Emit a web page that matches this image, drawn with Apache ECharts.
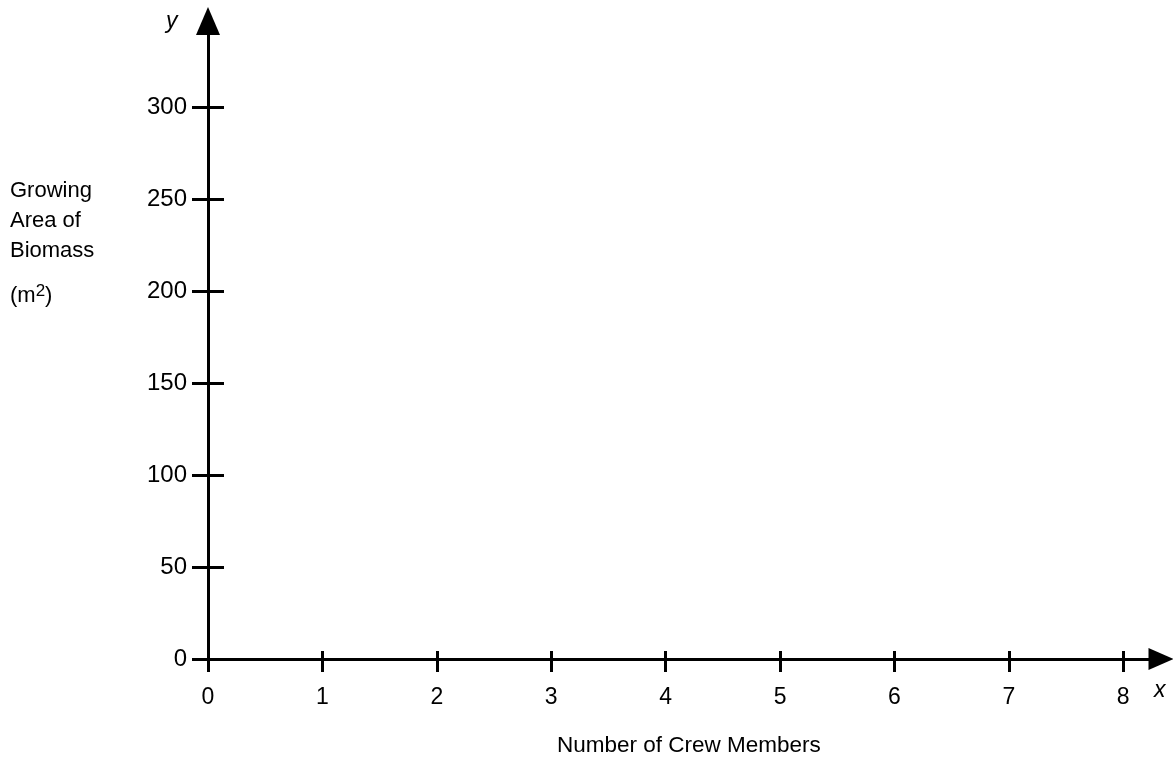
<!DOCTYPE html>
<html><head><meta charset="utf-8">
<script src="https://cdn.jsdelivr.net/npm/echarts@6/dist/echarts.min.js"></script>
<style>html,body{margin:0;padding:0;background:#fff}#c{width:1173px;height:762px}</style>
</head><body><div id="c"></div>
<script>
// ---- data ----
const xTicks = [0, 1, 2, 3, 4, 5, 6, 7, 8];
const yTicks = [0, 50, 100, 150, 200, 250, 300];
const seriesValues = [];           // the reference graph is empty (blank axes)
const xAxisTitle = 'Number of Crew Members';
const yAxisTitleLines = ['Growing', 'Area of', 'Biomass'];
const yAxisUnit = '(m{sup|2})';
const xVar = 'x', yVar = 'y';
const X_MAX = 8.33, Y_MAX = 346.7;

const FONT = '"Liberation Sans", Arial, Helvetica, sans-serif';
const BLACK = '#000';
const gridBox = { left: 208, right: 12, top: 21, bottom: 103, containLabel: false };

function xAx(gridIndex, outside) {
  return {
    type: 'value', gridIndex, min: 0, max: X_MAX, position: 'bottom',
    splitLine: { show: false },
    axisLine: outside ? {
      show: true, onZero: false,
      lineStyle: { color: BLACK, width: 3 },
      symbol: ['none', 'triangle'], symbolSize: [22, 25]
    } : { show: false },
    axisTick: {
      show: true, inside: !outside, length: outside ? 13 : 8,
      customValues: xTicks, lineStyle: { color: BLACK, width: 3 }
    },
    axisLabel: outside ? {
      show: true, customValues: xTicks, margin: 27,
      fontSize: 23, color: BLACK, fontFamily: FONT
    } : { show: false }
  };
}
function yAx(gridIndex, outside) {
  return {
    type: 'value', gridIndex, min: 0, max: Y_MAX, position: 'left',
    splitLine: { show: false },
    axisLine: outside ? {
      show: true, onZero: false,
      lineStyle: { color: BLACK, width: 3 },
      symbol: ['none', 'triangle'], symbolSize: [24, 28]
    } : { show: false },
    axisTick: {
      show: true, inside: !outside, length: 16,
      customValues: yTicks, lineStyle: { color: BLACK, width: 3 }
    },
    axisLabel: outside ? {
      show: true, customValues: yTicks, margin: 21,
      fontSize: 24, color: BLACK, fontFamily: FONT
    } : { show: false }
  };
}

const chart = echarts.init(document.getElementById('c'), null, { renderer: 'canvas' });
chart.setOption({
  backgroundColor: '#fff',
  animation: false,
  grid: [Object.assign({}, gridBox), Object.assign({}, gridBox)],
  xAxis: [xAx(0, true), xAx(1, false)],
  yAxis: [yAx(0, true), yAx(1, false)],
  title: [
    { text: yVar, left: 166, top: 10, padding: 0,
      textStyle: { fontSize: 23, fontStyle: 'italic', fontWeight: 'normal', color: BLACK, fontFamily: FONT } },
    { text: xVar, left: 1154, top: 679, padding: 0,
      textStyle: { fontSize: 23, fontStyle: 'italic', fontWeight: 'normal', color: BLACK, fontFamily: FONT } },
    { text: xAxisTitle, left: 557, top: 734, padding: 0,
      textStyle: { fontSize: 22.5, fontWeight: 'normal', color: BLACK, fontFamily: FONT } },
    { text: yAxisTitleLines.join('\n'), left: 10, top: 176, padding: 0,
      textStyle: { fontSize: 22, lineHeight: 30, fontWeight: 'normal', color: BLACK, fontFamily: FONT } },
    { text: yAxisUnit, left: 10, top: 283, padding: 0,
      textStyle: { fontSize: 22, fontWeight: 'normal', color: BLACK, fontFamily: FONT,
        rich: { sup: { fontSize: 17, color: BLACK, fontFamily: FONT, padding: [0, 0, 9, 0], verticalAlign: 'top' } } } }
  ],
  series: [{ type: 'line', xAxisIndex: 0, yAxisIndex: 0, data: seriesValues, symbol: 'none' }]
});
</script>
</body></html>
